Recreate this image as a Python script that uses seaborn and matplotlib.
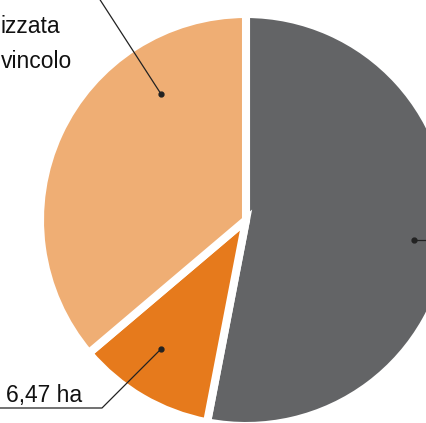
import seaborn as sns
import matplotlib.pyplot as plt

# slice areas in ha, clockwise from 12 o'clock
areas = [31.8, 6.47, 21.7]
slice_colors = ["#636466", "#E67A1C", "#EFAE74"]
area_label = "6,47 ha"
top_label_lines = ["izzata", "vincolo"]

sns.set_style("white")
plt.rcParams["font.family"] = ["Liberation Sans", "DejaVu Sans"]

W, H = 426, 423
fig = plt.figure(figsize=(W / 100, H / 100), dpi=100)
ax = fig.add_axes([0, 0, 1, 1])

palette = sns.color_palette(slice_colors)
ax.pie(areas, colors=palette, startangle=90, counterclock=False,
       center=(246, H - 220), radius=206, frame=True,
       wedgeprops=dict(edgecolor="white", linewidth=5.8))

ax.set_xlim(0, W)
ax.set_ylim(0, H)
ax.set_aspect("equal")
ax.axis("off")

# leader lines (pixel coords, y measured from top)
def py(y):
    return H - y

lc = "#222222"
ax.plot([161, 95], [py(94), py(-8)], color=lc, lw=0.9)
ax.plot([161], [py(94)], "o", color=lc, ms=3.5)
ax.plot([414, 432], [py(240), py(240)], color=lc, lw=0.9)
ax.plot([414], [py(240)], "o", color=lc, ms=3.5)
ax.plot([161, 102, -5], [py(349), py(408), py(408)], color=lc, lw=0.9)
ax.plot([161], [py(349)], "o", color=lc, ms=3.5)

fs = 16.5
ax.text(1, py(33), top_label_lines[0], ha="left", va="baseline", fontsize=fs, color="#111111")
ax.text(1, py(68), top_label_lines[1], ha="left", va="baseline", fontsize=fs, color="#111111")
ax.text(82, py(402), area_label, ha="right", va="baseline", fontsize=fs, color="#111111")

plt.savefig("out.png", dpi=100)
plt.close()
